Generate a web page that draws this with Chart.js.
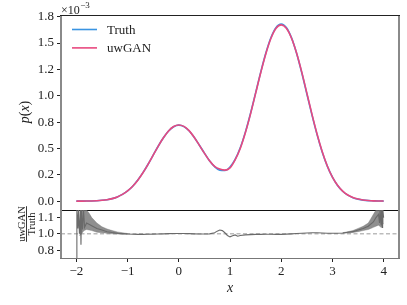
<!DOCTYPE html>
<html>
<head>
<meta charset="utf-8">
<script src="https://cdn.jsdelivr.net/npm/chart.js@4.4.0/dist/chart.umd.min.js"></script>
<style>
  body { margin: 0; background: #fff; }
  #wrap { position: relative; width: 407px; height: 305px; background: #fff; }
  canvas { position: absolute; left: 0; top: 0; }
</style>
</head>
<body>
<div id="wrap">
  <canvas id="chartTop" width="407" height="305"></canvas>
  <canvas id="chartRatio" width="407" height="305"></canvas>
</div>
<script>
// density values are in units of 1e-3
const xGrid = [-2.0, -1.9, -1.8, -1.7, -1.6, -1.5, -1.4, -1.3, -1.2, -1.1,
  -1.0, -0.9, -0.8, -0.7, -0.6, -0.5, -0.4, -0.3, -0.2, -0.1,
  0.0, 0.1, 0.2, 0.3, 0.4, 0.5, 0.6, 0.7, 0.8, 0.9,
  1.0, 1.1, 1.2, 1.3, 1.4, 1.5, 1.6, 1.7, 1.8, 1.9,
  2.0, 2.1, 2.2, 2.3, 2.4, 2.5, 2.6, 2.7, 2.8, 2.9,
  3.0, 3.1, 3.2, 3.3, 3.4, 3.5, 3.6, 3.7, 3.8, 3.9, 4.0];
const truthE3 = [0.0002, 0.0005, 0.001, 0.002, 0.004, 0.008, 0.014, 0.024, 0.040, 0.064,
  0.097, 0.142, 0.200, 0.270, 0.350, 0.437, 0.523, 0.601, 0.665, 0.706,
  0.721, 0.707, 0.668, 0.606, 0.533, 0.456, 0.383, 0.327, 0.294, 0.291,
  0.324, 0.396, 0.507, 0.655, 0.832, 1.027, 1.224, 1.405, 1.552, 1.648,
  1.680, 1.647, 1.551, 1.403, 1.220, 1.019, 0.818, 0.631, 0.467, 0.332,
  0.227, 0.149, 0.094, 0.057, 0.033, 0.019, 0.010, 0.005, 0.003, 0.001, 0.0006];
const uwganE3 = [0.0002, 0.0005, 0.001, 0.002, 0.004, 0.008, 0.014, 0.024, 0.040, 0.064,
  0.097, 0.142, 0.199, 0.269, 0.349, 0.436, 0.522, 0.601, 0.666, 0.708,
  0.723, 0.709, 0.669, 0.606, 0.532, 0.455, 0.383, 0.330, 0.304, 0.294,
  0.316, 0.392, 0.500, 0.649, 0.826, 1.022, 1.218, 1.398, 1.545, 1.640,
  1.672, 1.641, 1.548, 1.405, 1.226, 1.027, 0.826, 0.637, 0.471, 0.334,
  0.228, 0.150, 0.095, 0.058, 0.034, 0.020, 0.011, 0.006, 0.003, 0.001, 0.0007];

// uwGAN / Truth
const ratioX = [-2.0, -1.99, -1.97, -1.96, -1.94, -1.92, -1.91, -1.90, -1.88, -1.86, -1.84,
  -1.8, -1.7, -1.6, -1.5, -1.4, -1.3, -1.2, -1.1, -1.0, -0.9, -0.8, -0.7, -0.6, -0.5,
  -0.4, -0.3, -0.2, -0.1, 0.0, 0.1, 0.2, 0.3, 0.4, 0.5, 0.6, 0.7, 0.75, 0.8, 0.85,
  0.9, 0.95, 1.0, 1.05, 1.1, 1.15, 1.2, 1.3, 1.4, 1.5, 1.6, 1.7, 1.8, 1.9, 2.0,
  2.1, 2.2, 2.3, 2.4, 2.5, 2.6, 2.7, 2.8, 2.9, 3.0, 3.1, 3.2, 3.3, 3.4, 3.5,
  3.6, 3.7, 3.8, 3.85, 3.9, 3.92, 3.93, 3.95, 3.96, 3.97, 3.98, 4.0];
const ratioY = [0.78, 1.22, 1.05, 1.22, 1.0, 1.22, 0.90, 1.22, 1.04, 1.22, 1.06,
  1.10, 1.075, 1.05, 1.035, 1.02, 1.012, 1.006, 1.002, 0.999, 0.996, 0.995, 0.995, 0.996, 0.997,
  0.998, 1.0, 1.002, 1.003, 1.003, 1.003, 1.002, 1.0, 0.998, 0.998, 1.0, 1.01, 1.025, 1.035, 1.03,
  1.01, 0.985, 0.972, 0.982, 0.99, 0.978, 0.985, 0.99, 0.993, 0.995, 0.995, 0.996, 0.996, 0.995, 0.995,
  0.997, 1.0, 1.003, 1.006, 1.008, 1.01, 1.01, 1.008, 1.006, 1.005, 1.006, 1.008, 1.014, 1.02, 1.035,
  1.05, 1.07, 1.11, 1.15, 1.18, 1.10, 1.22, 1.09, 1.22, 1.06, 1.22, 1.15];

// spread of the fast oscillation near the edges
const bandLeftX = [-1.94, -1.9, -1.85, -1.8, -1.75, -1.7, -1.6, -1.5, -1.4, -1.3, -1.2, -1.1, -1.0];
const bandLeftHi = [1.22, 1.22, 1.22, 1.22, 1.19, 1.15, 1.10, 1.065, 1.045, 1.03, 1.018, 1.01, 1.003];
const bandLeftLo = [0.98, 1.0, 1.03, 1.04, 1.035, 1.03, 1.015, 1.01, 1.005, 1.0, 0.998, 0.997, 0.997];
const bandRightX = [3.2, 3.3, 3.4, 3.5, 3.6, 3.7, 3.75, 3.8, 3.85, 3.9, 3.95, 4.0];
const bandRightHi = [1.01, 1.02, 1.03, 1.05, 1.07, 1.10, 1.14, 1.18, 1.22, 1.22, 1.22, 1.22];
const bandRightLo = [1.005, 1.008, 1.012, 1.02, 1.03, 1.04, 1.05, 1.06, 1.07, 1.08, 1.06, 1.10];

const pTicks = [0, 0.25, 0.5, 0.75, 1.0, 1.25, 1.5, 1.75];
const pTickLabels = ['0.0', '0.2', '0.5', '0.8', '1.0', '1.2', '1.5', '1.8'];
const rTicks = [0.85, 1.0, 1.15];
const rTickLabels = ['0.8', '1.0', '1.1'];
const xTicks = [-2, -1, 0, 1, 2, 3, 4];
const xTickLabels = ['\u22122', '\u22121', '0', '1', '2', '3', '4'];

const X_MIN = -2.3, X_MAX = 4.3;
const BLUE = '#3a94e2';
const PINK = '#e8497f';
const SERIF = "'Liberation Serif', 'DejaVu Serif', serif";
const tickFont = { family: SERIF, size: 13 };

function pairs(xs, ys) {
  return xs.map((x, i) => ({ x: x, y: ys[i] }));
}
function fixedTicks(vals) {
  return function (scale) { scale.ticks = vals.map(v => ({ value: v })); };
}

function spine(ctx, x1, y1, x2, y2, color, w) {
  ctx.save();
  ctx.strokeStyle = color;
  ctx.lineWidth = w;
  ctx.beginPath();
  ctx.moveTo(x1, y1);
  ctx.lineTo(x2, y2);
  ctx.stroke();
  ctx.restore();
}

const topDecor = {
  id: 'topDecor',
  afterDraw(chart) {
    const ctx = chart.ctx, a = chart.chartArea;
    spine(ctx, a.left, a.top, a.left, a.bottom + 1, '#8a8a8a', 2);
    spine(ctx, a.right, a.top, a.right, a.bottom + 1, '#8a8a8a', 2);
    spine(ctx, a.left - 1, a.top + 0.5, a.right + 1, a.top + 0.5, '#222', 1);
    spine(ctx, a.left - 1, a.bottom + 0.5, a.right + 1, a.bottom + 0.5, '#111', 1);

    ctx.save();
    ctx.fillStyle = '#222';
    // legend
    ctx.font = '13px ' + SERIF;
    ctx.textBaseline = 'middle';
    chart.data.datasets.forEach((ds, i) => {
      const y = 29.5 + i * 18.4;
      spine(ctx, 72, y, 97, y, ds.borderColor, 1.6);
      ctx.fillText(ds.label, 107, y + 1);
    });
    // offset text
    ctx.textBaseline = 'alphabetic';
    ctx.font = '12px ' + SERIF;
    ctx.fillText('\u00d710', 61, 13.5);
    const w = ctx.measureText('\u00d710').width;
    ctx.font = '9px ' + SERIF;
    ctx.fillText('\u22123', 61 + w + 0.5, 8);
    // y title p(x)
    ctx.translate(29, 112);
    ctx.rotate(-Math.PI / 2);
    ctx.textBaseline = 'alphabetic';
    const parts = [['p', 'italic '], ['(', ''], ['x', 'italic '], [')', '']];
    ctx.font = '14px ' + SERIF;
    let total = 0;
    parts.forEach(p => { ctx.font = p[1] + '14px ' + SERIF; total += ctx.measureText(p[0]).width; });
    let cx = -total / 2;
    parts.forEach(p => {
      ctx.font = p[1] + '14px ' + SERIF;
      ctx.fillText(p[0], cx, 0);
      cx += ctx.measureText(p[0]).width;
    });
    ctx.restore();
  }
};

const ratioDecor = {
  id: 'ratioDecor',
  afterDraw(chart) {
    const ctx = chart.ctx, a = chart.chartArea;
    spine(ctx, a.left, a.top, a.left, a.bottom + 1, '#8a8a8a', 2);
    spine(ctx, a.right, a.top, a.right, a.bottom + 1, '#8a8a8a', 2);
    spine(ctx, a.left - 1, a.bottom + 0.5, a.right + 1, a.bottom + 0.5, '#777', 1.2);

    ctx.save();
    ctx.fillStyle = '#222';
    // x title
    ctx.font = 'italic 14px ' + SERIF;
    ctx.textAlign = 'center';
    ctx.textBaseline = 'middle';
    ctx.fillText('x', (chart.scales.x.getPixelForValue(1)), 288);
    // fraction ylabel
    ctx.translate(26.5, 224);
    ctx.rotate(-Math.PI / 2);
    ctx.font = '10.5px ' + SERIF;
    const wn = ctx.measureText('uwGAN').width;
    ctx.textBaseline = 'alphabetic';
    ctx.fillText('uwGAN', 0, -2);
    ctx.fillText('Truth', 0, 8.5);
    ctx.fillRect(-wn / 2, -0.5, wn, 0.9);
    ctx.restore();
  }
};

new Chart(document.getElementById('chartTop'), {
  type: 'line',
  data: {
    datasets: [
      { label: 'Truth', data: pairs(xGrid, truthE3), borderColor: BLUE, borderWidth: 1.6,
        pointRadius: 0, cubicInterpolationMode: 'monotone', fill: false, order: 2 },
      { label: 'uwGAN', data: pairs(xGrid, uwganE3), borderColor: PINK, borderWidth: 1.6,
        pointRadius: 0, cubicInterpolationMode: 'monotone', fill: false, order: 1 }
    ]
  },
  options: {
    responsive: false,
    animation: false,
    events: [],
    layout: { padding: { top: 15, bottom: 95, left: 0, right: 8 } },
    plugins: { legend: { display: false }, tooltip: { enabled: false } },
    scales: {
      x: { type: 'linear', min: X_MIN, max: X_MAX, display: false },
      y: {
        type: 'linear', min: -0.084, max: 1.766,
        afterBuildTicks: fixedTicks(pTicks),
        afterFit: s => { s.width = 61; },
        ticks: { font: tickFont, color: '#222', padding: 3, callback: (v, i) => pTickLabels[i] },
        grid: { drawOnChartArea: false, tickLength: 4, color: '#222' },
        border: { display: false }
      }
    }
  },
  plugins: [topDecor]
});

new Chart(document.getElementById('chartRatio'), {
  type: 'line',
  data: {
    datasets: [
      { label: 'one', data: [{ x: X_MIN, y: 1.0 }, { x: X_MAX, y: 1.0 }], borderColor: '#9a9a9a',
        borderWidth: 1, borderDash: [4, 2.5], pointRadius: 0, fill: false, order: 5 },
      { label: 'leftHi', data: pairs(bandLeftX, bandLeftHi), borderColor: 'rgba(110,110,110,0.6)', borderWidth: 0.6,
        backgroundColor: 'rgba(115,115,115,0.8)', pointRadius: 0, fill: '+1', order: 3 },
      { label: 'leftLo', data: pairs(bandLeftX, bandLeftLo), borderColor: 'rgba(110,110,110,0.6)', borderWidth: 0.6,
        pointRadius: 0, fill: false, order: 3 },
      { label: 'rightHi', data: pairs(bandRightX, bandRightHi), borderColor: 'rgba(110,110,110,0.6)', borderWidth: 0.6,
        backgroundColor: 'rgba(115,115,115,0.8)', pointRadius: 0, fill: '+1', order: 3 },
      { label: 'rightLo', data: pairs(bandRightX, bandRightLo), borderColor: 'rgba(110,110,110,0.6)', borderWidth: 0.6,
        pointRadius: 0, fill: false, order: 3 },
      { label: 'ratio', data: pairs(ratioX, ratioY), borderColor: '#6a6a6a', borderWidth: 1.1,
        pointRadius: 0, tension: 0, fill: false, order: 1 }
    ]
  },
  options: {
    responsive: false,
    animation: false,
    events: [],
    layout: { padding: { top: 210, bottom: 0, left: 0, right: 8 } },
    plugins: { legend: { display: false }, tooltip: { enabled: false } },
    scales: {
      x: {
        type: 'linear', min: X_MIN, max: X_MAX,
        afterBuildTicks: fixedTicks(xTicks),
        afterFit: s => { s.height = 47; },
        ticks: { font: tickFont, color: '#222', padding: 2, maxRotation: 0, callback: (v, i) => xTickLabels[i] },
        grid: { drawOnChartArea: false, tickLength: 4, color: '#222' },
        border: { display: false }
      },
      y: {
        type: 'linear', min: 0.777, max: 1.22,
        afterBuildTicks: fixedTicks(rTicks),
        afterFit: s => { s.width = 61; },
        ticks: { font: tickFont, color: '#222', padding: 3, callback: (v, i) => rTickLabels[i] },
        grid: { drawOnChartArea: false, tickLength: 4, color: '#222' },
        border: { display: false }
      }
    }
  },
  plugins: [ratioDecor]
});
</script>
</body>
</html>
